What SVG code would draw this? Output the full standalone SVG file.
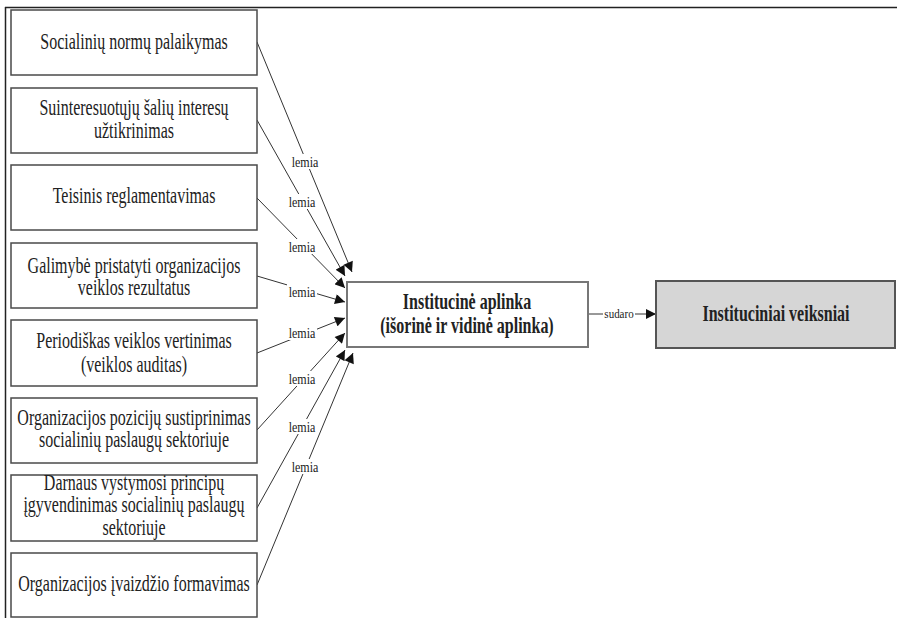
<svg xmlns="http://www.w3.org/2000/svg" width="897" height="618" viewBox="0 0 897 618">
<style>
.box{fill:#fff;stroke:#4a4a4a;stroke-width:1.5}
.t{font-family:'Liberation Serif',serif;font-size:16px;fill:#222;text-anchor:middle}
.b{font-family:'Liberation Serif',serif;font-size:16px;font-weight:bold;fill:#222;text-anchor:middle}
.c{stroke:#333;stroke-width:1;fill:none}
.lbl{font-family:'Liberation Serif',serif;font-size:12px;fill:#222;text-anchor:middle}
.lb{fill:#fff}
</style>
<defs>
<marker id="ah" viewBox="0 0 10 10" refX="10" refY="5" markerWidth="11" markerHeight="10" markerUnits="userSpaceOnUse" orient="auto">
<path d="M0,0 L10,5 L0,10 z" fill="#111"/>
</marker>
</defs>
<g id="frame">
<line x1="5.5" y1="7" x2="5.5" y2="618" stroke="#222" stroke-width="1.5"/>
<line x1="5" y1="7.5" x2="897" y2="7.5" stroke="#222" stroke-width="1.5"/>
</g>
<g id="connectors">
<line class="c" x1="257" y1="42" x2="352" y2="272" marker-end="url(#ah)"/>
<line class="c" x1="257" y1="120" x2="345" y2="276" marker-end="url(#ah)"/>
<line class="c" x1="257" y1="198" x2="345" y2="288" marker-end="url(#ah)"/>
<line class="c" x1="257" y1="276" x2="345" y2="302" marker-end="url(#ah)"/>
<line class="c" x1="257" y1="353" x2="345" y2="318" marker-end="url(#ah)"/>
<line class="c" x1="257" y1="430" x2="345" y2="333" marker-end="url(#ah)"/>
<line class="c" x1="257" y1="508" x2="345" y2="350" marker-end="url(#ah)"/>
<line class="c" x1="257" y1="585" x2="353" y2="353" marker-end="url(#ah)"/>
<line class="c" x1="588" y1="314" x2="656" y2="314" marker-end="url(#ah)"/>
<rect class="lb" x="290" y="154" width="30" height="15"/><text class="lbl" transform="translate(305,167) scale(1,1.2)">lemia</text>
<rect class="lb" x="287" y="194" width="30" height="15"/><text class="lbl" transform="translate(302,207) scale(1,1.2)">lemia</text>
<rect class="lb" x="287" y="239" width="30" height="15"/><text class="lbl" transform="translate(302,252) scale(1,1.2)">lemia</text>
<rect class="lb" x="287" y="284" width="30" height="15"/><text class="lbl" transform="translate(302,297) scale(1,1.2)">lemia</text>
<rect class="lb" x="287" y="325" width="30" height="15"/><text class="lbl" transform="translate(302,338) scale(1,1.2)">lemia</text>
<rect class="lb" x="287" y="371" width="30" height="15"/><text class="lbl" transform="translate(302,384) scale(1,1.2)">lemia</text>
<rect class="lb" x="287" y="419" width="30" height="15"/><text class="lbl" transform="translate(302,432) scale(1,1.2)">lemia</text>
<rect class="lb" x="290" y="459" width="30" height="15"/><text class="lbl" transform="translate(305,472) scale(1,1.2)">lemia</text>
<rect class="lb" x="603" y="306" width="32" height="15"/><text class="lbl" style="font-size:11px" transform="translate(619,318) scale(1,1.2)">sudaro</text>
</g>
<g id="n1"><rect class="box" x="11" y="10" width="246" height="65"/><text class="t" transform="translate(134,49) scale(1,1.4)">Socialinių normų palaikymas</text></g>
<g id="n2"><rect class="box" x="11" y="88" width="246" height="65"/><text class="t" transform="translate(134,115) scale(1,1.4)">Suinteresuotųjų šalių interesų</text><text class="t" transform="translate(134,138) scale(1,1.4)">užtikrinimas</text></g>
<g id="n3"><rect class="box" x="11" y="165" width="246" height="65"/><text class="t" transform="translate(134,203) scale(1,1.4)">Teisinis reglamentavimas</text></g>
<g id="n4"><rect class="box" x="11" y="243" width="246" height="65"/><text class="t" transform="translate(134,273) scale(1,1.4)">Galimybė pristatyti organizacijos</text><text class="t" transform="translate(134,295) scale(1,1.4)">veiklos rezultatus</text></g>
<g id="n5"><rect class="box" x="11" y="320" width="246" height="66"/><text class="t" transform="translate(134,348) scale(1,1.4)">Periodiškas veiklos vertinimas</text><text class="t" transform="translate(134,372) scale(1,1.4)">(veiklos auditas)</text></g>
<g id="n6"><rect class="box" x="11" y="398" width="246" height="65"/><text class="t" transform="translate(134,425) scale(1,1.4)">Organizacijos pozicijų sustiprinimas</text><text class="t" transform="translate(134,447) scale(1,1.4)">socialinių paslaugų sektoriuje</text></g>
<g id="n7"><rect class="box" x="11" y="475" width="246" height="66"/><text class="t" transform="translate(134,490) scale(1,1.4)">Darnaus vystymosi principų</text><text class="t" transform="translate(134,512) scale(1,1.4)">įgyvendinimas socialinių paslaugų</text><text class="t" transform="translate(134,535) scale(1,1.4)">sektoriuje</text></g>
<g id="n8"><rect class="box" x="11" y="553" width="246" height="64"/><text class="t" transform="translate(134,591) scale(1,1.4)">Organizacijos įvaizdžio formavimas</text></g>
<g id="center"><rect x="347" y="282" width="241" height="65" fill="#fff" stroke="#777" stroke-width="2"/><text class="b" transform="translate(467,309) scale(1,1.4)">Institucinė aplinka</text><text class="b" transform="translate(467,333) scale(1,1.4)">(išorinė ir vidinė aplinka)</text></g>
<g id="result"><rect x="656" y="281" width="239" height="67" fill="#d6d6d6" stroke="#555" stroke-width="2"/><text class="b" transform="translate(776,321) scale(1,1.4)">Instituciniai veiksniai</text></g>
</svg>
